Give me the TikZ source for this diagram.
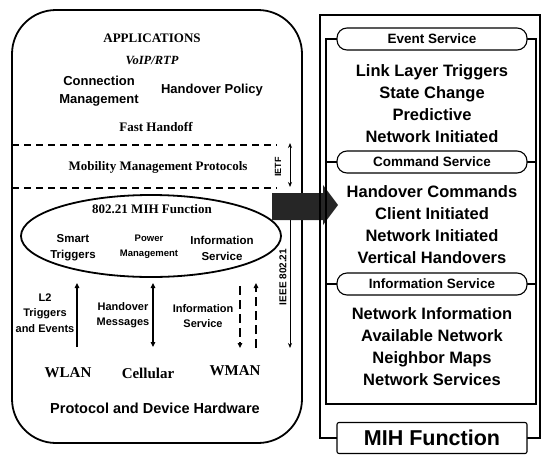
\documentclass[tikz,border=0pt]{standalone}
\usepackage{fontspec}
\setmainfont{Liberation Serif}
\setsansfont{Liberation Sans}
\usetikzlibrary{arrows.meta,shapes.geometric}
\begin{document}
\begin{tikzpicture}[x=1pt,y=-1pt,
  serifb/.style={font=\fontsize{13}{15}\selectfont\bfseries},
  netw/.style={font=\fontsize{15}{17}\selectfont\bfseries},
  sansb/.style={font=\sffamily\bfseries\fontsize{13}{18}\selectfont, align=center},
  sanss/.style={font=\sffamily\bfseries\fontsize{11.5}{16}\selectfont, align=center},
  sanst/.style={font=\sffamily\bfseries\fontsize{9.5}{15}\selectfont, align=center},
  sansl/.style={font=\sffamily\bfseries\fontsize{11}{15.5}\selectfont, align=center},
  rtext/.style={font=\sffamily\bfseries\fontsize{16.5}{22}\selectfont, align=center},
  pill/.style={draw, fill=white, line width=1.1pt, rounded corners=10pt,
    minimum width=190pt, minimum height=22pt, inner sep=0pt,
    font=\sffamily\bfseries\fontsize{13.5}{15}\selectfont},
  thickline/.style={line width=1.8pt},
  frameline/.style={line width=1.1pt},
  solidarr/.style={line width=1.2pt, -{Triangle[length=5pt,width=4.5pt]}},
  dasharr/.style={line width=1.4pt, dash pattern=on 9pt off 5pt, -{Triangle[length=5pt,width=4.5pt]}},
  thinarr/.style={line width=0.9pt, -{Stealth[length=5pt,width=4pt]}}
]
\useasboundingbox (0,0) rectangle (545,455);

% ---------- left panel ----------
\draw[thickline, rounded corners=44pt] (12,10) rectangle (302,443);
\draw[line width=1.4pt, dash pattern=on 7pt off 5pt] (12,145) -- (277,145);
\draw[line width=1.4pt, dash pattern=on 7pt off 5pt] (12,188) -- (277,188);

\node[serifb] (apps) at (152,38) {APPLICATIONS};
\node[font=\fontsize{12.5}{15}\selectfont\bfseries\itshape] (voip) at (152,60) {VoIP/RTP};
\node[sansb] (conn) at (99,91) {Connection\\Management};
\node[sansb] (hpol) at (212,90) {Handover Policy};
\node[serifb] (fast) at (156,127) {Fast Handoff};
\node[serifb] (mmp) at (158,167) {Mobility Management Protocols};

\node[draw, thickline, ellipse, minimum width=260pt, minimum height=82pt, inner sep=0pt] (mihell) at (151,236) {};
\node[serifb] (mihtitle) at (152,209) {802.21 MIH Function};
\node[sanss] (smart) at (73,248) {Smart\\Triggers};
\node[sanst] (power) at (149,247) {Power\\Management};
\node[sanss] (infos) at (222,248) {Information\\Service};

\node[sansl] (l2) at (45,313) {L2\\Triggers\\and Events};
\node[sansl] (hmsg) at (123,315) {Handover\\Messages};
\node[sansl] (info2) at (203,316) {Information\\Service};

\coordinate (l2bot) at (77,347);
\coordinate (l2top) at (77,283);
\draw[solidarr] (l2bot) -- (l2top);
\coordinate (hobot) at (153,347);
\coordinate (hotop) at (153,283);
\draw[solidarr, {Triangle[length=5pt,width=4.5pt]}-{Triangle[length=5pt,width=4.5pt]}] (hotop) -- (hobot);
\coordinate (isdtop) at (240,286);
\coordinate (isdbot) at (240,348);
\draw[dasharr] (isdtop) -- (isdbot);
\coordinate (isubot) at (256,348);
\coordinate (isutop) at (256,283);
\draw[dasharr] (isubot) -- (isutop);

\node[netw] (wlan) at (68,373) {WLAN};
\node[netw] (cell) at (148,373) {Cellular};
\node[netw] (wman) at (235,371) {WMAN};
\node[font=\sffamily\bfseries\fontsize{14.5}{17}\selectfont] (pdh) at (155,408) {Protocol and Device Hardware};

% ---------- scope labels ----------
\coordinate (ietftop) at (290,143);
\coordinate (ietfbot) at (290,187);
\draw[thinarr, {Stealth[length=5pt,width=4pt]}-{Stealth[length=5pt,width=4pt]}] (ietftop) -- (ietfbot);
\node[rotate=90, font=\sffamily\bfseries\fontsize{9}{10}\selectfont] (ietf) at (278,167) {IETF};

\coordinate (ieeetop) at (290,200);
\coordinate (ieeebot) at (290,348);
\draw[thinarr] (ieeetop) -- (ieeebot);
\node[rotate=90, font=\sffamily\bfseries\fontsize{10}{11}\selectfont] (ieee) at (283,277) {IEEE 802.21};

% ---------- big arrow ----------
\fill[black!85] (272,193) -- (323,193) -- (323,185) -- (338,205) -- (323,225) -- (323,220) -- (272,220) -- cycle;

% ---------- right panel ----------
\draw[frameline] (320,15) rectangle (540,438);
\draw[frameline] (326,39) rectangle (536,404);
\draw[frameline] (326,162) -- (536,162);
\draw[frameline] (326,284) -- (536,284);

\node[pill] (evs) at (432,39) {Event Service};
\node[rtext] (evtxt) at (432,104) {Link Layer Triggers\\State Change\\Predictive\\Network Initiated};
\node[pill] (cms) at (432,162) {Command Service};
\node[rtext] (cmtxt) at (432,225) {Handover Commands\\Client Initiated\\Network Initiated\\Vertical Handovers};
\node[pill] (ins) at (432,284) {Information Service};
\node[rtext] (intxt) at (432,347) {Network Information\\Available Network\\Neighbor Maps\\Network Services};

\node[draw, frameline, fill=white, rounded corners=2pt, minimum width=190pt, minimum height=31pt,
  font=\sffamily\bfseries\fontsize{21.5}{24}\selectfont] (mihf) at (432,438) {MIH Function};
\end{tikzpicture}
\end{document}
